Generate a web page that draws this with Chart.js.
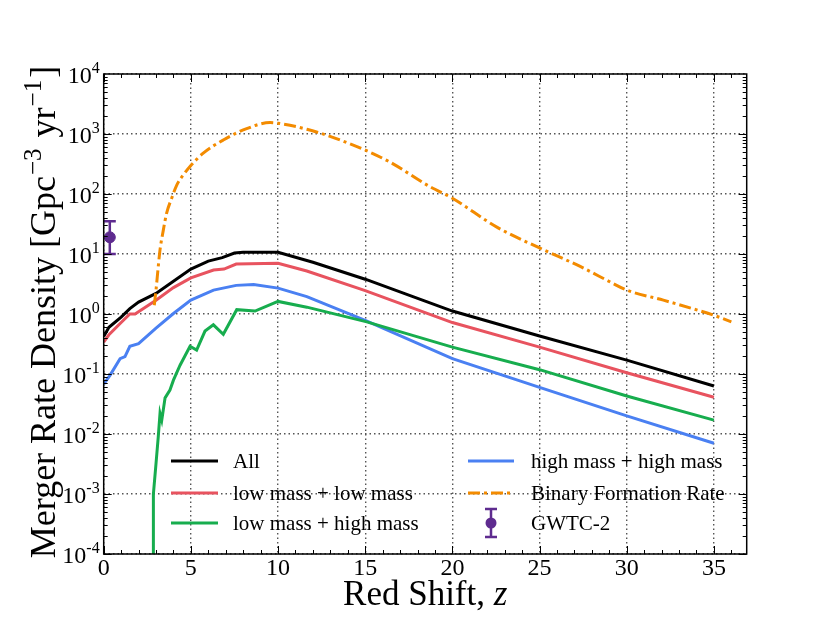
<!DOCTYPE html>
<html>
<head>
<meta charset="utf-8">
<script src="https://cdn.jsdelivr.net/npm/chart.js@4/dist/chart.umd.min.js"></script>
<style>
  html, body { margin: 0; padding: 0; background: #fff; }
  canvas { display: block; }
</style>
</head>
<body>
<canvas id="rateChart" width="830" height="623"></canvas>
<script>
// merger rate density vs red shift
const allZ = [0, 0.3, 1, 1.5, 2, 3, 4, 5, 6, 6.8, 7.5, 8, 10, 12, 15, 20, 25, 30, 35];
const allRate = [0.42, 0.6, 0.89, 1.23, 1.58, 2.2, 3.5, 5.6, 7.6, 8.7, 10.4, 10.7, 10.7, 7.3, 3.8, 1.12, 0.43, 0.17, 0.063];

const llZ = [0, 0.3, 1, 1.5, 1.8, 3, 4, 5, 6.3, 6.9, 7.6, 10, 11.65, 15, 20, 25, 30, 35];
const llRate = [0.34, 0.45, 0.72, 1.0, 1.0, 1.7, 2.75, 4.0, 5.4, 5.6, 6.8, 7.0, 5.2, 2.45, 0.72, 0.28, 0.105, 0.041];

const lhZ = [2.84, 2.85, 3.0, 3.13, 3.23, 3.33, 3.52, 3.8, 4.0, 4.38, 4.95, 5.33, 5.81, 6.29, 6.86, 7.63, 8.68, 10, 11.65, 15.09, 20, 25, 30, 35];
const lhRate = [1e-5, 1e-3, 3.2e-3, 9e-3, 0.022, 0.017, 0.04, 0.054, 0.079, 0.14, 0.29, 0.25, 0.52, 0.66, 0.46, 1.18, 1.12, 1.62, 1.3, 0.74, 0.28, 0.118, 0.043, 0.017];

const hhZ = [0, 0.36, 0.94, 1.22, 1.5, 2, 3, 4, 5, 6.3, 7.6, 8.6, 10, 11.65, 15, 20, 25, 30, 35];
const hhRate = [0.068, 0.095, 0.18, 0.195, 0.29, 0.32, 0.58, 1.02, 1.7, 2.5, 3.0, 3.1, 2.7, 1.95, 0.78, 0.18, 0.06, 0.02, 0.007];

const bfrZ = [2.9, 3.0, 3.13, 3.23, 3.42, 3.61, 3.9, 4.19, 4.57, 4.95, 5.71, 6.86, 8.2, 9.54, 10, 11.65, 13.56, 16.24, 18.72, 20, 22.55, 25, 27.33, 29.24, 30, 32.1, 35, 36];
const bfrRate = [1.4, 2.5, 6.2, 11.7, 25, 48, 85, 141, 209, 288, 479, 794, 1230, 1550, 1510, 1200, 794, 363, 132, 85, 28, 12.6, 6.2, 3.2, 2.5, 1.7, 0.95, 0.74];

// GWTC-2 estimate with error bar
const gwtcZ = [0.35];
const gwtcRate = [19];
const gwtcLow = [10];
const gwtcHigh = [35];

const xTickLabels = ["0", "5", "10", "15", "20", "25", "30", "35"];
const yExponents = [-4, -3, -2, -1, 0, 1, 2, 3, 4];

const SERIF = "'Liberation Serif', 'DejaVu Serif', serif";
const PURPLE = "#5e2b8f";

function toPoints(zs, vs) {
    return zs.map((z, i) => ({ x: z, y: vs[i] }));
}

function lineSet(label, zs, vs, color, extra) {
    return Object.assign({
        label: label,
        data: toPoints(zs, vs),
        borderColor: color,
        backgroundColor: color,
        borderWidth: 3,
        pointRadius: 0,
        tension: 0,
        fill: false,
    }, extra || {});
}

// ticks, tick labels, titles, legend and error bar
const decorations = {
    id: "decorations",
    afterDraw(chart) {
        const ctx = chart.ctx;
        const xs = chart.scales.x;
        const ys = chart.scales.y;
        const a = chart.chartArea;

        // error bar for GWTC-2
        ctx.save();
        ctx.strokeStyle = PURPLE;
        ctx.lineWidth = 2.5;
        gwtcZ.forEach((z, i) => {
            const px = xs.getPixelForValue(z);
            const top = ys.getPixelForValue(gwtcHigh[i]);
            const bot = ys.getPixelForValue(gwtcLow[i]);
            ctx.beginPath();
            ctx.moveTo(px, top); ctx.lineTo(px, bot);
            ctx.moveTo(px - 6, top); ctx.lineTo(px + 6, top);
            ctx.moveTo(px - 6, bot); ctx.lineTo(px + 6, bot);
            ctx.stroke();
        });
        ctx.restore();

        // inward tick marks
        ctx.save();
        ctx.strokeStyle = "#000";
        ctx.lineWidth = 1;
        ctx.beginPath();
        for (let v = 0; v <= 36; v++) {
            const px = Math.round(xs.getPixelForValue(v)) + 0.5;
            const len = v % 5 === 0 ? 8 : 4;
            ctx.moveTo(px, a.bottom); ctx.lineTo(px, a.bottom - len);
            ctx.moveTo(px, a.top); ctx.lineTo(px, a.top + len);
        }
        for (let e = -4; e < 4; e++) {
            for (let k = 1; k <= 9; k++) {
                const py = Math.round(ys.getPixelForValue(k * Math.pow(10, e))) + 0.5;
                const len = k === 1 ? 8 : 4;
                ctx.moveTo(a.left, py); ctx.lineTo(a.left + len, py);
                ctx.moveTo(a.right, py); ctx.lineTo(a.right - len, py);
            }
        }
        ctx.stroke();

        // frame
        ctx.lineWidth = 1.5;
        ctx.strokeRect(a.left, a.top, a.right - a.left, a.bottom - a.top);
        ctx.restore();

        // tick labels
        ctx.save();
        ctx.fillStyle = "#000";
        ctx.font = "24px " + SERIF;
        ctx.textAlign = "center";
        ctx.textBaseline = "top";
        xTickLabels.forEach(t => {
            ctx.fillText(t, xs.getPixelForValue(Number(t)), a.bottom + 3);
        });

        yExponents.forEach(e => {
            const py = ys.getPixelForValue(Math.pow(10, e));
            const sup = String(e);
            ctx.font = "16px " + SERIF;
            const sw = ctx.measureText(sup).width;
            ctx.textAlign = "right";
            ctx.textBaseline = "alphabetic";
            ctx.fillText(sup, a.left - 4, py - 1);
            ctx.font = "24px " + SERIF;
            ctx.fillText("10", a.left - 4 - sw, py + 9);
        });
        ctx.restore();

        // x title
        ctx.save();
        ctx.fillStyle = "#000";
        ctx.textBaseline = "alphabetic";
        ctx.textAlign = "left";
        ctx.font = "35px " + SERIF;
        const part1 = "Red Shift, ";
        const w1 = ctx.measureText(part1).width;
        ctx.font = "italic 35px " + SERIF;
        const w2 = ctx.measureText("z").width;
        const xc = (a.left + a.right) / 2;
        let x0 = xc - (w1 + w2) / 2;
        ctx.font = "35px " + SERIF;
        ctx.fillText(part1, x0, 605);
        ctx.font = "italic 35px " + SERIF;
        ctx.fillText("z", x0 + w1, 605);
        ctx.restore();

        // y title, rotated, with superscripts
        ctx.save();
        ctx.fillStyle = "#000";
        ctx.translate(55, (a.top + a.bottom) / 2 - 2);
        ctx.rotate(-Math.PI / 2);
        const pieces = [
            ["Merger Rate Density [Gpc", false],
            ["\u22123", true],
            [" yr", false],
            ["\u22121", true],
            ["]", false],
        ];
        const fontFor = sup => (sup ? "25px " : "36px ") + SERIF;
        let total = 0;
        pieces.forEach(p => { ctx.font = fontFor(p[1]); total += ctx.measureText(p[0]).width + (p[1] ? 3 : 0); });
        let cx = -total / 2;
        ctx.textAlign = "left";
        ctx.textBaseline = "alphabetic";
        pieces.forEach(p => {
            ctx.font = fontFor(p[1]);
            ctx.fillText(p[0], cx + (p[1] ? 1 : 0), p[1] ? -14 : 0);
            cx += ctx.measureText(p[0]).width + (p[1] ? 3 : 0);
        });
        ctx.restore();

        // legend inside the axes
        ctx.save();
        ctx.font = "21px " + SERIF;
        ctx.textAlign = "left";
        ctx.textBaseline = "middle";
        ctx.fillStyle = "#000";
        const rows = [461, 493, 523];
        const cols = [{ l0: 171, l1: 218, t: 233 }, { l0: 468, l1: 514, t: 531 }];
        const entries = chart.data.datasets.filter(d => d.legendRow !== undefined);
        entries.forEach(d => {
            const c = cols[d.legendCol];
            const y = rows[d.legendRow];
            if (d.showLine === false) {
                const mx = (c.l0 + c.l1) / 2;
                ctx.strokeStyle = PURPLE;
                ctx.lineWidth = 2.5;
                ctx.beginPath();
                ctx.moveTo(mx, y - 14); ctx.lineTo(mx, y + 14);
                ctx.moveTo(mx - 6, y - 14); ctx.lineTo(mx + 6, y - 14);
                ctx.moveTo(mx - 6, y + 14); ctx.lineTo(mx + 6, y + 14);
                ctx.stroke();
                ctx.fillStyle = PURPLE;
                ctx.beginPath();
                ctx.arc(mx, y, 5.5, 0, Math.PI * 2);
                ctx.fill();
            } else {
                ctx.strokeStyle = d.borderColor;
                ctx.lineWidth = 3;
                ctx.setLineDash(d.borderDash || []);
                ctx.beginPath();
                ctx.moveTo(c.l0, y); ctx.lineTo(c.l1, y);
                ctx.stroke();
                ctx.setLineDash([]);
            }
            ctx.fillStyle = "#000";
            ctx.fillText(d.label, c.t, y + 1);
        });
        ctx.restore();
    },
};

const ctx = document.getElementById("rateChart").getContext("2d");
new Chart(ctx, {
    type: "line",
    data: {
        datasets: [
            lineSet("Binary Formation Rate", bfrZ, bfrRate, "#f38b00", {
                borderDash: [12, 4, 3, 4], cubicInterpolationMode: "monotone", legendCol: 1, legendRow: 1,
            }),
            lineSet("low mass + high mass", lhZ, lhRate, "#17ad4e", { legendCol: 0, legendRow: 2 }),
            lineSet("high mass + high mass", hhZ, hhRate, "#4a80f2", { legendCol: 1, legendRow: 0 }),
            lineSet("low mass + low mass", llZ, llRate, "#e8535f", { legendCol: 0, legendRow: 1 }),
            lineSet("All", allZ, allRate, "#000000", { legendCol: 0, legendRow: 0 }),
            {
                label: "GWTC-2",
                data: toPoints(gwtcZ, gwtcRate),
                showLine: false,
                pointRadius: 5.5,
                pointBackgroundColor: PURPLE,
                pointBorderColor: PURPLE,
                legendCol: 1,
                legendRow: 2,
            },
        ],
    },
    options: {
        responsive: false,
        animation: false,
        layout: { padding: { top: 74, right: 83.3, left: 0, bottom: 0 } },
        plugins: {
            legend: { display: false },
            tooltip: { enabled: false },
        },
        scales: {
            x: {
                type: "linear",
                min: 0,
                max: 36.88,
                afterFit: s => { s.height = 69; },
                ticks: { stepSize: 5, display: false, includeBounds: false },
                grid: { color: "#555", lineWidth: 1.4, drawTicks: false },
                border: { display: false, dash: [1.5, 3] },
            },
            y: {
                type: "logarithmic",
                min: 1e-4,
                max: 1e4,
                afterFit: s => { s.width = 103.7; },
                afterBuildTicks: s => {
                    s.ticks = yExponents.map(e => ({ value: Math.pow(10, e), major: true }));
                },
                ticks: { display: false },
                grid: { color: "#555", lineWidth: 1.4, drawTicks: false },
                border: { display: false, dash: [1.5, 3] },
            },
        },
    },
    plugins: [decorations],
});
</script>
</body>
</html>
